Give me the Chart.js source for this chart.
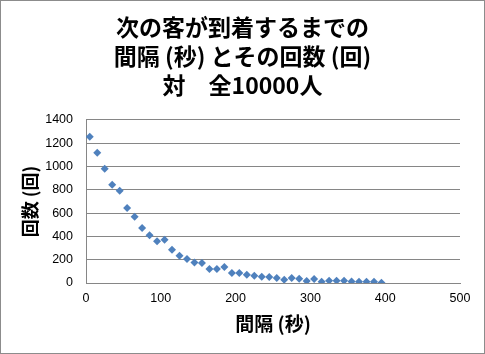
<!DOCTYPE html>
<html>
<head>
<meta charset="utf-8">
<script src="https://cdn.jsdelivr.net/npm/chart.js@4"></script>
<style>
html,body{margin:0;padding:0;background:#fff;}
#wrap{width:485px;height:354px;position:relative;}
</style>
</head>
<body>
<div id="wrap"><canvas id="arrivalChart"></canvas></div>
<script>
// 間隔(秒) と その回数(回)
const intervals=[5,15,25,35,45,55,65,75,85,95,105,115,125,135,145,155,165,175,185,195,205,215,225,235,245,255,265,275,285,295,305,315,325,335,345,355,365,375,385,395];
const counts=[1256,1118,981,843,791,645,568,473,410,358,372,286,235,206,177,172,120,120,138,86,86,70,63,54,52,43,28,43,37,17,34,11,20,20,20,12,11,11,10,3];
const titleLines=['次の客が到着するまでの','間隔 (秒) とその回数 (回)','対　全10000人'];
const xTitle='間隔 (秒)';
const yTitle='回数 (回)';

const jp='"Noto Sans CJK JP","Noto Sans CJK SC",sans-serif';
const num='"Liberation Sans",Arial,sans-serif';
const gridGray='#868686';

// 外枠
const frame={
id:'frame',
afterDraw(c){
const ctx=c.ctx;
ctx.save();
ctx.strokeStyle='#8c8c8c';
ctx.lineWidth=1;
ctx.strokeRect(0.5,0.5,c.width-1,c.height-1);
ctx.restore();
}
};

new Chart(document.getElementById('arrivalChart'),{
type:'scatter',
data:{datasets:[{
data:intervals.map((x,i)=>({x,y:counts[i]})),
pointStyle:'rectRot',
pointRadius:4,
pointHoverRadius:4,
backgroundColor:'#4f81bd',
borderColor:'#4f81bd',
borderWidth:0
}]},
options:{
responsive:true,maintainAspectRatio:false,animation:false,
layout:{padding:0},
plugins:{
legend:{display:false},
tooltip:{enabled:false},
title:{display:true,text:titleLines,color:'#000',
font:{family:jp,size:23,weight:'bold',lineHeight:1.26},
padding:{top:13,bottom:20}}
},
scales:{
x:{type:'linear',min:0,max:500,
ticks:{stepSize:100,color:'#000',padding:8,font:{family:num,size:12.5}},
grid:{display:false,drawTicks:false},
border:{display:true,color:gridGray},
title:{display:true,text:xTitle,color:'#000',font:{family:jp,size:19,weight:'bold',lineHeight:1.2},padding:{top:0,bottom:19}},
afterFit:s=>{s.height=71;}
},
y:{min:0,max:1400,
ticks:{stepSize:200,color:'#000',padding:13,font:{family:num,size:12.5},callback:v=>String(v)},
grid:{color:gridGray,drawTicks:false},
border:{display:true,color:gridGray},
title:{display:true,text:yTitle,color:'#000',font:{family:jp,size:18,weight:'bold',lineHeight:1.2},padding:{top:19,bottom:0}},
afterFit:s=>{s.width=86;}
},
// 右側の余白用
yRight:{position:'right',min:0,max:1400,
ticks:{display:false},
grid:{display:false,drawTicks:false},
border:{display:false},
afterFit:s=>{s.width=25;}
}
}
},
plugins:[frame]
});
</script>
</body>
</html>
